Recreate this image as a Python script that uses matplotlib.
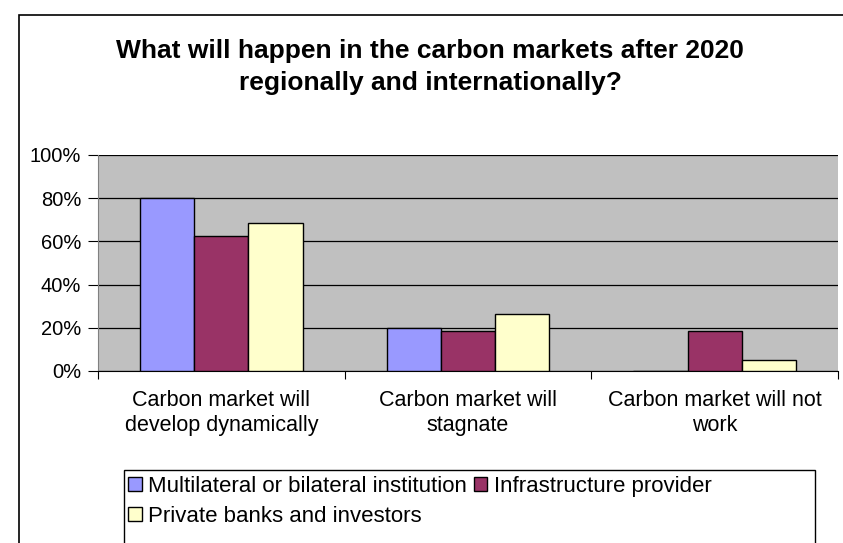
import matplotlib
matplotlib.use("Agg")
import matplotlib.pyplot as plt
import numpy as np
from matplotlib.patches import Rectangle

plt.rcParams['font.family'] = ['Liberation Sans', 'DejaVu Sans']

categories = ["Carbon market will\ndevelop dynamically", "Carbon market will\nstagnate", "Carbon market will not\nwork"]
series_names = ["Multilateral or bilateral institution", "Infrastructure provider", "Private banks and investors"]
multilateral = [0.80, 0.20, 0.0]
infrastructure = [0.625, 0.1875, 0.1875]
private = [0.684, 0.263, 0.053]
colors = ["#9999FF", "#993366", "#FFFFCC"]
yticks = [0, 0.2, 0.4, 0.6, 0.8, 1.0]
ytick_labels = ["0%", "20%", "40%", "60%", "80%", "100%"]
title = "What will happen in the carbon markets after 2020\nregionally and internationally?"

W, H = 843, 543
fig = plt.figure(figsize=(W / 100, H / 100), dpi=100)
fig.patch.set_facecolor("white")
# outer chart border
fig.add_artist(Rectangle((19 / W, -0.05), 1.0, 1 - 15 / H + 0.05, transform=fig.transFigure,
                         fill=False, edgecolor="black", linewidth=1.2))

ax = fig.add_axes([98 / W, 1 - 371 / H, (838 - 98) / W, (371 - 155) / H])
ax.set_facecolor("#C0C0C0")

x = np.arange(len(categories))
w = 0.22
data = [multilateral, infrastructure, private]
handles = []
for i, (vals, c) in enumerate(zip(data, colors)):
    b = ax.bar(x + (i - 1) * w, vals, width=w, color=c, edgecolor="black", linewidth=1.0,
               zorder=3, label=series_names[i])
    handles.append(b)

ax.set_ylim(0, 1.0)
ax.set_xlim(-0.5, 2.5)
ax.set_yticks(yticks)
ax.set_yticklabels(ytick_labels, fontsize=14.5)
ax.yaxis.grid(True, color="black", linewidth=0.9, zorder=1)
ax.set_axisbelow(True)

ax.set_xticks([-0.5, 0.5, 1.5, 2.5])
ax.set_xticklabels([])
ax.set_xticks(x, minor=True)
ax.set_xticklabels(categories, minor=True, fontsize=15.5, linespacing=1.2)
ax.tick_params(axis="x", which="minor", length=0, pad=14)
ax.tick_params(axis="x", which="major", length=6, direction="out")
ax.tick_params(axis="y", length=7, direction="out", pad=5)

for s in ["top", "right"]:
    ax.spines[s].set_visible(False)
ax.spines["left"].set_color("#808080")
ax.spines["bottom"].set_color("black")

fig.text(430 / W, 1 - 67 / H, title, ha="center", va="center", fontsize=19,
         fontweight="bold", linespacing=1.42)

# legend box (extends beyond the bottom edge, as in the original)
fig.add_artist(Rectangle((124 / W, -0.05), (815 - 124) / W, 1 - 470 / H + 0.05,
                         transform=fig.transFigure, fill=False, edgecolor="black", linewidth=1.0))
leg = fig.legend([handles[0], handles[2], handles[1]],
                 [series_names[0], series_names[2], series_names[1]],
                 ncol=2, loc="upper left", bbox_to_anchor=(126 / W, 1 - 474 / H),
                 fontsize=16, frameon=False,
                 handlelength=0.6, handleheight=0.6, handletextpad=0.3,
                 columnspacing=0.3, labelspacing=0.38, borderpad=0.1, borderaxespad=0)

fig.savefig("out.png", dpi=100)
